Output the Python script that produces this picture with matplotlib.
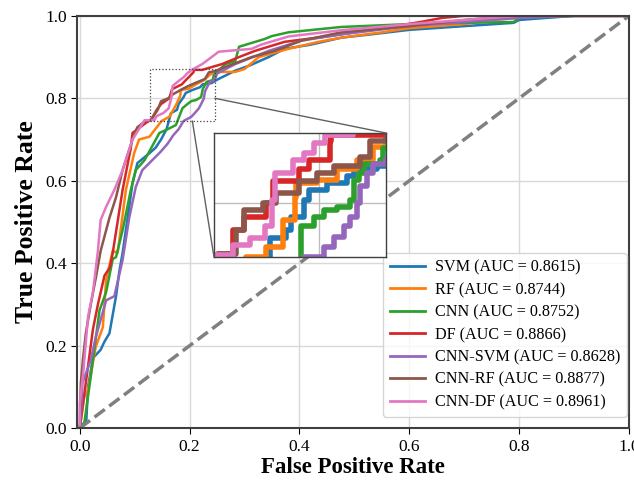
import matplotlib
matplotlib.use("Agg")
import matplotlib.pyplot as plt
from matplotlib.patches import Rectangle, ConnectionPatch

plt.rcParams['font.family'] = ['Liberation Serif', 'DejaVu Serif']

# ROC points (FPR, TPR) for each model
svm_fpr = [0.0, 0.012, 0.015, 0.024, 0.038, 0.045, 0.054, 0.066, 0.072, 0.078, 0.09, 0.096, 0.105,
           0.127, 0.138, 0.148, 0.158, 0.166, 0.177, 0.18, 0.189, 0.193, 0.205, 0.219, 0.224, 0.24,
           0.25, 0.265, 0.283, 0.31, 0.344, 0.373, 0.42, 0.476, 0.53, 0.6, 0.7, 0.79, 0.8, 0.9, 1.0]
svm_tpr = [0.0, 0.02, 0.10, 0.17, 0.19, 0.21, 0.23, 0.32, 0.38, 0.425, 0.537, 0.594, 0.643,
           0.667, 0.68, 0.70, 0.725, 0.764, 0.772, 0.786, 0.803, 0.813, 0.82, 0.827, 0.834, 0.837,
           0.845, 0.855, 0.867, 0.88, 0.90, 0.92, 0.93, 0.947, 0.955, 0.966, 0.975, 0.983, 0.99, 1.0, 1.0]

rf_fpr = [0.0, 0.008, 0.015, 0.029, 0.042, 0.048, 0.06, 0.069, 0.084, 0.099, 0.108, 0.127, 0.149,
          0.163, 0.175, 0.183, 0.184, 0.198, 0.212, 0.226, 0.237, 0.246, 0.283, 0.30, 0.326, 0.38,
          0.435, 0.476, 0.55, 0.6, 0.7, 0.75, 0.85, 1.0]
rf_tpr = [0.0, 0.075, 0.092, 0.197, 0.245, 0.36, 0.43, 0.425, 0.578, 0.667, 0.70, 0.707, 0.745,
          0.755, 0.783, 0.806, 0.82, 0.823, 0.834, 0.844, 0.857, 0.864, 0.864, 0.871, 0.90, 0.92,
          0.937, 0.947, 0.96, 0.97, 0.98, 0.99, 1.0, 1.0]

cnn_fpr = [0.0, 0.008, 0.02, 0.027, 0.036, 0.048, 0.06, 0.066, 0.078, 0.093, 0.102, 0.118, 0.145,
           0.16, 0.175, 0.187, 0.196, 0.203, 0.212, 0.221, 0.224, 0.227, 0.231, 0.242, 0.244, 0.265,
           0.283, 0.29, 0.337, 0.35, 0.38, 0.476, 0.6, 0.7, 0.79, 0.8, 0.9, 1.0]
cnn_tpr = [0.0, 0.01, 0.125, 0.197, 0.286, 0.33, 0.41, 0.415, 0.48, 0.578, 0.626, 0.65, 0.716,
           0.725, 0.735, 0.776, 0.786, 0.793, 0.796, 0.803, 0.823, 0.83, 0.84, 0.844, 0.856, 0.883,
           0.89, 0.925, 0.944, 0.951, 0.96, 0.973, 0.98, 0.983, 0.985, 0.995, 1.0, 1.0]

df_fpr = [0.0, 0.005, 0.011, 0.024, 0.033, 0.045, 0.055, 0.06, 0.078, 0.093, 0.096, 0.11, 0.12,
          0.13, 0.14, 0.148, 0.163, 0.168, 0.186, 0.193, 0.207, 0.208, 0.223, 0.259, 0.29, 0.319,
          0.373, 0.45, 0.55, 0.62, 0.66, 0.7, 1.0]
df_tpr = [0.0, 0.05, 0.11, 0.24, 0.30, 0.37, 0.39, 0.425, 0.578, 0.68, 0.716, 0.73, 0.74,
          0.748, 0.772, 0.786, 0.80, 0.822, 0.834, 0.844, 0.863, 0.869, 0.869, 0.883, 0.90, 0.915,
          0.937, 0.95, 0.97, 0.985, 0.995, 1.0, 1.0]

cnn_svm_fpr = [0.0, 0.003, 0.005, 0.02, 0.029, 0.048, 0.063, 0.078, 0.09, 0.102, 0.114, 0.132,
               0.147, 0.16, 0.17, 0.18, 0.189, 0.203, 0.21, 0.217, 0.221, 0.226, 0.228, 0.233,
               0.237, 0.246, 0.25, 0.283, 0.344, 0.404, 0.476, 0.6, 0.7, 0.8, 0.9, 1.0]
cnn_svm_tpr = [0.0, 0.05, 0.11, 0.165, 0.22, 0.31, 0.32, 0.408, 0.51, 0.585, 0.626, 0.65,
               0.67, 0.69, 0.71, 0.725, 0.745, 0.755, 0.765, 0.776, 0.786, 0.80, 0.817, 0.83,
               0.84, 0.845, 0.86, 0.883, 0.915, 0.94, 0.955, 0.975, 0.985, 0.995, 1.0, 1.0]

cnn_rf_fpr = [0.0, 0.002, 0.006, 0.011, 0.02, 0.03, 0.038, 0.054, 0.066, 0.078, 0.10, 0.105, 0.12,
              0.13, 0.142, 0.148, 0.161, 0.17, 0.186, 0.198, 0.21, 0.228, 0.235, 0.246, 0.265,
              0.313, 0.355, 0.404, 0.476, 0.6, 0.7, 0.8, 1.0]
cnn_rf_tpr = [0.0, 0.11, 0.17, 0.23, 0.30, 0.37, 0.43, 0.51, 0.56, 0.626, 0.716, 0.73, 0.745,
              0.748, 0.772, 0.793, 0.80, 0.81, 0.822, 0.83, 0.837, 0.847, 0.863, 0.866, 0.876,
              0.90, 0.915, 0.94, 0.96, 0.975, 0.99, 1.0, 1.0]

cnn_df_fpr = [0.0, 0.0, 0.006, 0.015, 0.024, 0.033, 0.038, 0.048, 0.063, 0.078, 0.096, 0.118,
              0.136, 0.14, 0.152, 0.162, 0.167, 0.169, 0.182, 0.189, 0.196, 0.204, 0.223, 0.253,
              0.313, 0.33, 0.38, 0.476, 0.6, 0.7, 0.8, 1.0]
cnn_df_tpr = [0.0, 0.06, 0.13, 0.27, 0.33, 0.43, 0.505, 0.537, 0.578, 0.626, 0.70, 0.747,
              0.747, 0.757, 0.764, 0.776, 0.803, 0.83, 0.844, 0.851, 0.861, 0.869, 0.883, 0.913,
              0.92, 0.93, 0.95, 0.965, 0.98, 0.99, 1.0, 1.0]

names = ['SVM', 'RF', 'CNN', 'DF', 'CNN-SVM', 'CNN-RF', 'CNN-DF']
aucs = [0.8615, 0.8744, 0.8752, 0.8866, 0.8628, 0.8877, 0.8961]
fprs = [svm_fpr, rf_fpr, cnn_fpr, df_fpr, cnn_svm_fpr, cnn_rf_fpr, cnn_df_fpr]
tprs = [svm_tpr, rf_tpr, cnn_tpr, df_tpr, cnn_svm_tpr, cnn_rf_tpr, cnn_df_tpr]
colors = ['tab:blue', 'tab:orange', 'tab:green', 'tab:red', 'tab:purple', 'tab:brown', 'tab:pink']

# zoomed window
zx = [0.127, 0.246]
zy = [0.745, 0.871]

fig = plt.figure(figsize=(6.34, 4.8), dpi=100)
ax = fig.add_axes([0.1215, 0.108, 0.8705, 0.859])

for f, t, n, a, c in zip(fprs, tprs, names, aucs, colors):
    ax.plot(f, t, color=c, lw=1.8, label=f'{n} (AUC = {a:.4f})')
ax.plot([0, 1], [0, 1], color='gray', lw=2.5, ls='--')

ax.set_xlim(-0.005, 1.0)
ax.set_ylim(0, 1.0)
ax.grid(True, color='#d9d9d9', lw=1)
ax.set_axisbelow(True)
ax.tick_params(labelsize=12.5, length=4)
for s in ax.spines.values():
    s.set_color('#404040')
    s.set_linewidth(1.5)
ax.set_xlabel('False Positive Rate', fontsize=16.5, fontweight='bold', labelpad=2)
ax.set_ylabel('True Positive Rate', fontsize=18.5, fontweight='bold', labelpad=5)

leg = ax.legend(loc='lower right', bbox_to_anchor=(1.0, 0.022), borderaxespad=0.15,
                fontsize=11.6, labelspacing=0.4, handlelength=2.2, handletextpad=0.6,
                frameon=True)
for line in leg.get_lines():
    line.set_linewidth(2)

# zoom window on the main axes
ax.add_patch(Rectangle((zx[0], zy[0]), zx[1] - zx[0], zy[1] - zy[0], fill=False,
                       ls=':', lw=0.9, ec='#404040', zorder=5))

ins = fig.add_axes([0.3375, 0.4646, 0.2713, 0.2583])
for f, t, c in zip(fprs, tprs, colors):
    ins.plot(f, t, color=c, lw=4, drawstyle='steps-post')
ins.set_xlim(zx)
ins.set_ylim(zy)
ins.set_xticks([0.2])
ins.set_yticks([0.8])
ins.tick_params(length=0, labelbottom=False, labelleft=False)
ins.grid(True, color='#bdbdbd', lw=1)
for s in ins.spines.values():
    s.set_color('#404040')
    s.set_linewidth(1)

# connectors from the window to the inset corners
for pa, pb in [((zx[1], 0.80), (1, 1)), ((0.205, zy[0]), (0, 0))]:
    con = ConnectionPatch(xyA=pa, coordsA=ax.transData, xyB=pb, coordsB=ins.transAxes,
                          color='#606060', lw=1)
    fig.add_artist(con)

fig.savefig('out.png', dpi=100)
